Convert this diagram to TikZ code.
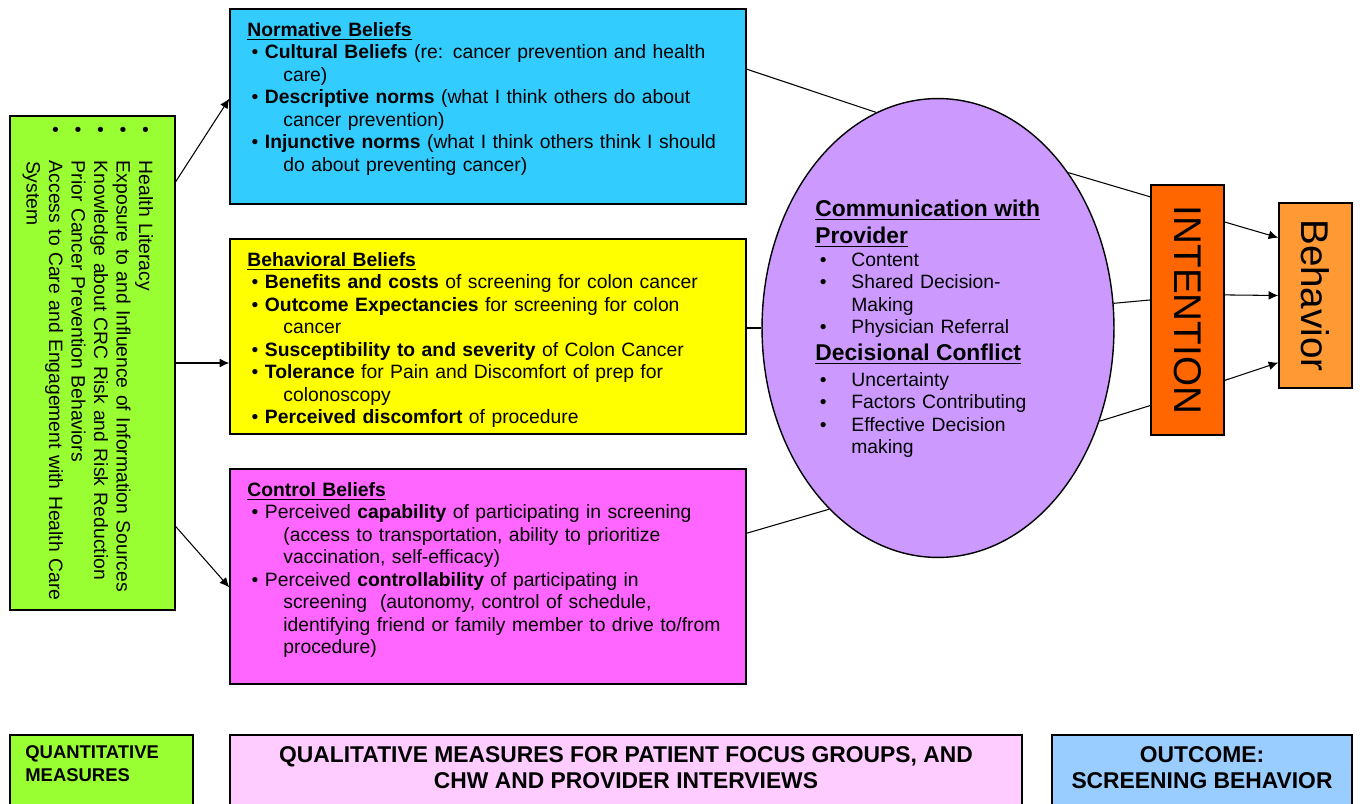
\documentclass[tikz,border=0pt]{standalone}
\usepackage{fontspec}
\setmainfont{Liberation Sans}
\usetikzlibrary{arrows.meta,calc,fit,shapes.geometric}
\setlength{\parindent}{0pt}

\definecolor{quantgreen}{HTML}{99FF33}
\definecolor{normblue}{HTML}{33CCFF}
\definecolor{behyellow}{HTML}{FFFF00}
\definecolor{ctrlpink}{HTML}{FF66FF}
\definecolor{commlilac}{HTML}{CC99FF}
\definecolor{intorange}{HTML}{FF6600}
\definecolor{actorange}{HTML}{FF9933}
\definecolor{qualpink}{HTML}{FFCCFF}
\definecolor{outblue}{HTML}{99CCFF}

% bulleted paragraph: #1 = where the text starts, #2 = indent of wrapped lines
\newcommand{\itm}[2]{\par\hangindent=#2\hangafter=1\noindent\hbox to #1{\hspace{2.5pt}\textbullet\hss}}
% line break that keeps the hanging indent
\newcommand{\nl}{\hfil\break}

\begin{document}
\begin{tikzpicture}[x=0.02cm,y=-0.02cm,
  box/.style={draw,line width=0.8pt,inner sep=0pt},
  conn/.style={line width=0.6pt},
  arr/.style={conn,-{Latex[length=5.5pt,width=5pt]}},
  list/.style={anchor=north west,align=left,inner sep=0pt,font=\fontsize{11}{12.8}\selectfont},
  key/.style={inner sep=0pt,font=\fontsize{13}{14.8}\selectfont\bfseries}]
  \useasboundingbox (0,0) rectangle (1360,804);
  \clip (0,0) rectangle (1360,804);

  % boxes
  \node[box,fill=quantgreen,fit={(10,116) (175,610)}] (quant) {};
  \node[box,fill=normblue,fit={(230,9) (746,204)}] (norm) {};
  \node[box,fill=behyellow,fit={(230,239) (746,434)}] (beh) {};
  \node[box,fill=ctrlpink,fit={(230,469) (746,684)}] (ctrl) {};
  \node[box,ellipse,fill=commlilac,minimum width=7.04cm,minimum height=9.18cm] (comm) at (938,328) {};
  \node[box,fill=intorange,fit={(1151,185) (1224,435)}] (int) {};
  \node[box,fill=actorange,fit={(1279,203) (1352,388)}] (act) {};

  % texts
  \node[list,rotate=-90,text width=11cm] (quanttxt) at (162,122) {%
    \itm{22pt}{22pt}Health Literacy
    \itm{22pt}{22pt}Exposure to and Influence of Information Sources
    \itm{22pt}{22pt}Knowledge about CRC Risk and Risk Reduction
    \itm{22pt}{22pt}Prior Cancer Prevention Behaviors
    \itm{22pt}{22pt}Access to Care and Engagement with Health Care\nl System\par};
  \node[list,text width=9.8cm] (normtxt) at (247,22) {%
    \underline{\textbf{Normative Beliefs}}
    \itm{10pt}{20.5pt}\textbf{Cultural Beliefs} (re: cancer prevention and health\nl care)
    \itm{10pt}{20.5pt}\textbf{Descriptive norms} (what I think others do about\nl cancer prevention)
    \itm{10pt}{20.5pt}\textbf{Injunctive norms} (what I think others think I should\nl do about preventing cancer)\par};
  \node[list,text width=9.8cm] (behtxt) at (247,252) {%
    \underline{\textbf{Behavioral Beliefs}}
    \itm{10pt}{20.5pt}\textbf{Benefits and costs} of screening for colon cancer
    \itm{10pt}{20.5pt}\textbf{Outcome Expectancies} for screening for colon\nl cancer
    \itm{10pt}{20.5pt}\textbf{Susceptibility to and severity} of Colon Cancer
    \itm{10pt}{20.5pt}\textbf{Tolerance} for Pain and Discomfort of prep for\nl colonoscopy
    \itm{10pt}{20.5pt}\textbf{Perceived discomfort} of procedure\par};
  \node[list,text width=9.8cm] (ctrltxt) at (247,482) {%
    \underline{\textbf{Control Beliefs}}
    \itm{10pt}{20.5pt}Perceived \textbf{capability} of participating in screening\nl (access to transportation, ability to prioritize\nl vaccination, self-efficacy)
    \itm{10pt}{20.5pt}Perceived \textbf{controllability} of participating in\nl screening\ \ (autonomy, control of schedule,\nl identifying friend or family member to drive to/from\nl procedure)\par};
  \node[list,text width=6cm] (commtxt) at (815,200) {%
    {\fontsize{13}{15.4}\selectfont\bfseries\underline{Communication with}\\\underline{Provider}\par}
    \itm{20.5pt}{20.5pt}Content
    \itm{20.5pt}{20.5pt}Shared Decision-\nl Making
    \itm{20.5pt}{20.5pt}Physician Referral\par
    {\fontsize{13}{15.4}\selectfont\bfseries\underline{Decisional Conflict}\par}
    \vspace{1.5pt}
    \itm{20.5pt}{20.5pt}Uncertainty
    \itm{20.5pt}{20.5pt}Factors Contributing
    \itm{20.5pt}{20.5pt}Effective Decision\nl making\par};
  \node[rotate=-90,font=\fontsize{22}{22}\selectfont] (inttxt) at (int.center) {INTENTION};
  \node[rotate=-90,font=\fontsize{22}{22}\selectfont] (acttxt) at (act.center) {Behavior};

  % connectors
  \draw[arr] ($(quant.north east)!0.134!(quant.south east)$) -- ($(norm.north west)!0.46!(norm.south west)$);
  \draw[arr] (quant.east) -- (quant.east -| beh.west);
  \draw[arr] ($(quant.north east)!0.83!(quant.south east)$) -- ($(ctrl.north west)!0.55!(ctrl.south west)$);
  \draw[conn] ($(norm.north east)!0.31!(norm.south east)$) -- (comm.106);
  \draw[conn] (comm.west -| beh.east) -- (comm.west);
  \draw[conn] ($(ctrl.north east)!0.3!(ctrl.south east)$) -- (comm.239);
  \draw[conn] (comm.50) -- ($(int.north west)!0.05!(int.south west)$);
  \draw[conn] (comm.8) -- ($(int.north west)!0.46!(int.south west)$);
  \draw[conn] (comm.-30) -- ($(int.north west)!0.88!(int.south west)$);
  \draw[arr] ($(int.north east)!0.15!(int.south east)$) -- ($(act.north west)!0.19!(act.south west)$);
  \draw[arr] ($(int.north east)!0.44!(int.south east)$) -- ($(act.north west)!0.5!(act.south west)$);
  \draw[arr] ($(int.north east)!0.78!(int.south east)$) -- ($(act.north west)!0.86!(act.south west)$);

  % measure key along the bottom
  \node[box,fill=quantgreen,fit={(10,735) (193,840)}] (quantkey) {};
  \node[box,fill=qualpink,fit={(230,735) (1022,840)}] (qualkey) {};
  \node[box,fill=outblue,fit={(1052,735) (1352,840)}] (outkey) {};
  \node[key,anchor=north west,align=left,font=\fontsize{10.5}{13}\selectfont\bfseries] (quantlbl) at (25,745) {QUANTITATIVE\\MEASURES};
  \node[key,anchor=north,align=center] (quallbl) at (626,746) {QUALITATIVE MEASURES FOR PATIENT FOCUS GROUPS, AND\\CHW AND PROVIDER INTERVIEWS};
  \node[key,anchor=north,align=center] (outlbl) at (1202,746) {OUTCOME:\\SCREENING BEHAVIOR};
\end{tikzpicture}
\end{document}
